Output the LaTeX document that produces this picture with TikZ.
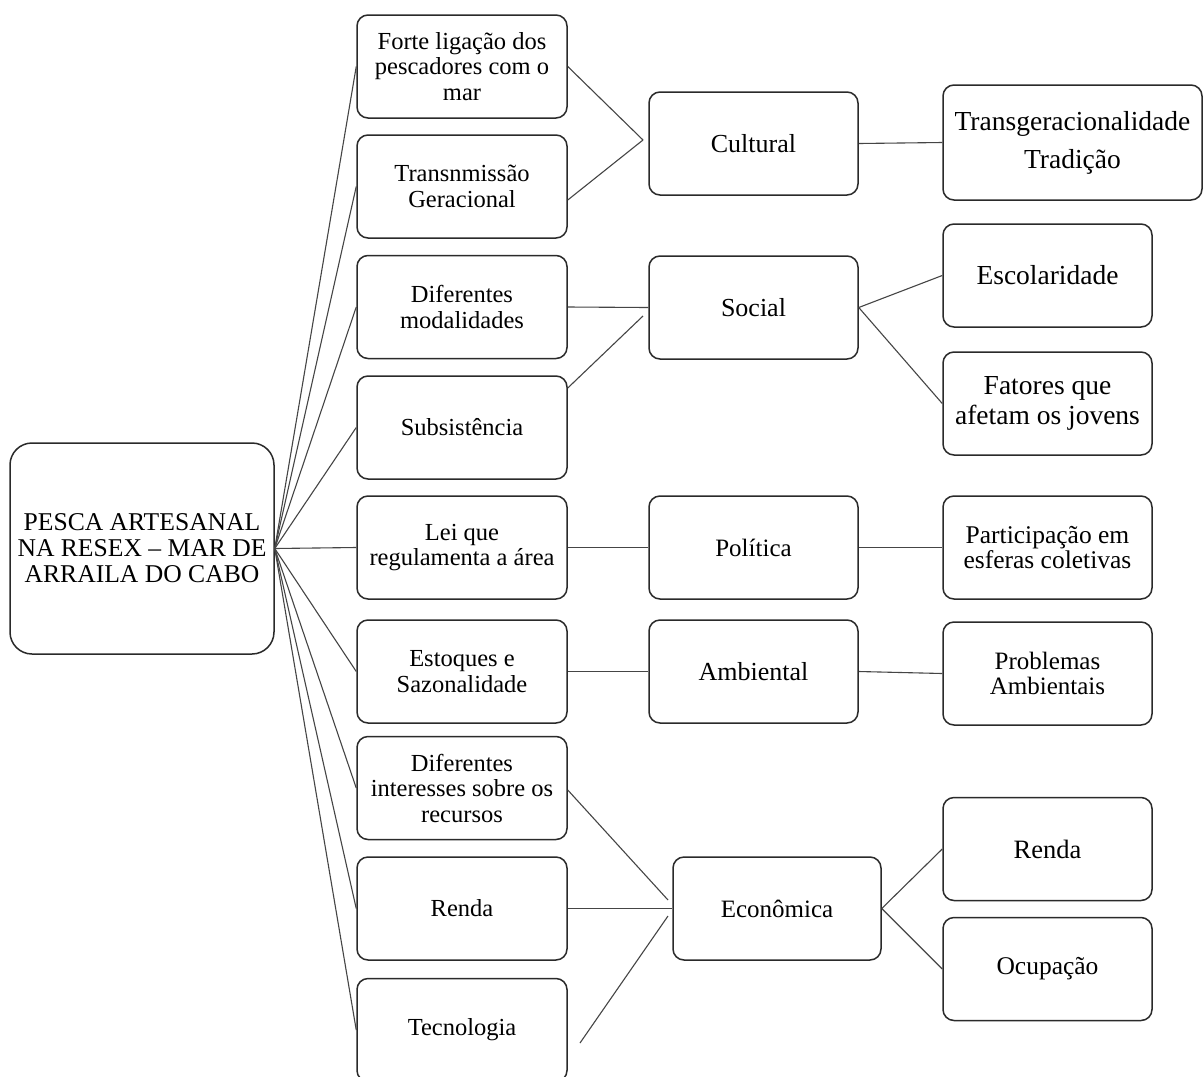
\documentclass[tikz,border=0pt]{standalone}
\usepackage{fontspec}
\setmainfont{Liberation Serif}
\definecolor{boxc}{HTML}{2A2A2A}
\definecolor{linec}{HTML}{454545}
\begin{document}
\begin{tikzpicture}[x=1pt,y=-1pt,
  box/.style={draw=boxc, line width=1.5pt, rounded corners=11pt, fill=white,
    minimum width=210pt, minimum height=103pt, inner sep=0pt, align=center},
  leftbox/.style={box, font=\fontsize{24.5}{25.5}\selectfont},
  catbox/.style={box, minimum width=209pt, font=\fontsize{26}{27}\selectfont},
  rightbox/.style={box, minimum width=209pt, font=\fontsize{25.5}{25.5}\selectfont},
  conn/.style={draw=linec, line width=1.1pt}]
\useasboundingbox (0,0) rectangle (1203,1077);
\fill[white] (0,0) rectangle (1203,1077);
\clip (0,0) rectangle (1203,1077);

% root
\node[box, minimum width=264pt, minimum height=211pt, rounded corners=22pt,
  font=\fontsize{25.6}{26}\selectfont] (root) at (142,548.5)
  {PESCA ARTESANAL\\NA RESEX -- MAR DE\\ARRAILA DO CABO};

% left column
\node[leftbox] (b1) at (462,66.5) {Forte ligação dos\\pescadores com o\\mar};
\node[leftbox] (b2) at (462,186.5) {Transnmissão\\Geracional};
\node[leftbox] (b3) at (462,307) {Diferentes\\modalidades};
\node[leftbox] (b4) at (462,427.5) {Subsistência};
\node[leftbox] (b5) at (462,547.5) {Lei que\\regulamenta a área};
\node[leftbox] (b6) at (462,671.5) {Estoques e\\Sazonalidade};
\node[leftbox] (b7) at (462,788) {Diferentes\\interesses sobre os\\recursos};
\node[leftbox] (b8) at (462,908.5) {Renda};
\node[leftbox] (b9) at (462,1030) {Tecnologia};

% categories
\node[catbox] (cul) at (753.5,143.5) {Cultural};
\node[catbox] (soc) at (753.5,307.5) {Social};
\node[catbox, font=\fontsize{25}{26}\selectfont] (pol) at (753.5,547.5) {Política};
\node[catbox] (amb) at (753.5,671.5) {Ambiental};
\node[catbox, minimum width=208pt, font=\fontsize{25}{26}\selectfont] (eco) at (777,908.5) {Econômica};

% right column
\node[rightbox, minimum width=259pt, minimum height=115pt,
  font=\fontsize{27.5}{38}\selectfont] (r1) at (1072.5,142.5) {Transgeracionalidade\\Tradição};
\node[rightbox, font=\fontsize{27.5}{28}\selectfont] (r2) at (1047.5,275.5) {Escolaridade};
\node[rightbox, font=\fontsize{27.5}{30}\selectfont] (r3) at (1047.5,403.5) {Fatores que\\afetam os jovens};
\node[rightbox, font=\fontsize{25.5}{25}\selectfont] (r4) at (1047.5,547.5) {Participação em\\esferas coletivas};
\node[rightbox, font=\fontsize{25}{25}\selectfont] (r5) at (1047.5,673.5) {Problemas\\Ambientais};
\node[rightbox, font=\fontsize{26.5}{27}\selectfont] (r6) at (1047.5,849) {Renda};
\node[rightbox, font=\fontsize{25.5}{26}\selectfont] (r7) at (1047.5,969) {Ocupação};

% free ends / junctions
\coordinate (cj) at (643,140);
\coordinate (sj) at (643,316);
\coordinate (ej1) at (668,900);
\coordinate (ej2) at (668,916);
\coordinate (tstart) at (580,1043);

% root to left column
\foreach \n in {b1,b2,b3,b4,b5,b6,b7,b8,b9}
  \draw[conn] (root.east) -- (\n.west);

% left to categories
\draw[conn] (b1.east) -- (cj);
\draw[conn] ([yshift=-13.5pt]b2.east) -- (cj);
\draw[conn] (b3.east) -- (soc.west);
\draw[conn] ([yshift=39.5pt]b4.east) -- (sj);
\draw[conn] (b5.east) -- (pol.west);
\draw[conn] (b6.east) -- (amb.west);
\draw[conn] ([yshift=-2pt]b7.east) -- (ej1);
\draw[conn] (b8.east) -- (eco.west);
\draw[conn] (tstart) -- (ej2);

% categories to right
\draw[conn] (cul.east) -- (r1.west);
\draw[conn] (soc.east) -- (r2.west);
\draw[conn] (soc.east) -- (r3.west);
\draw[conn] (pol.east) -- (r4.west);
\draw[conn] (amb.east) -- (r5.west);
\draw[conn] (eco.east) -- (r6.west);
\draw[conn] (eco.east) -- (r7.west);
\end{tikzpicture}
\end{document}
